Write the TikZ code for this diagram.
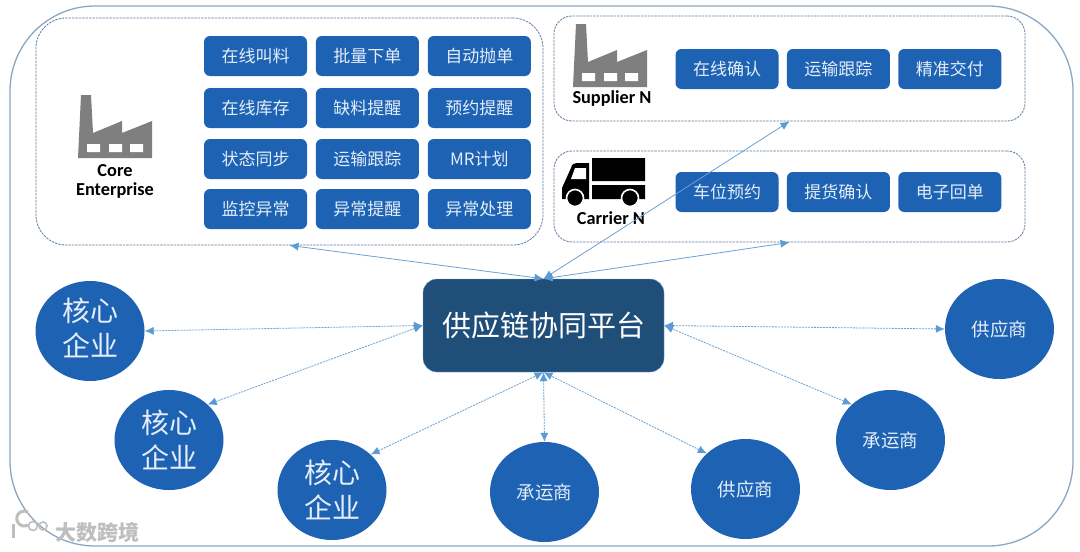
\documentclass[tikz,border=0pt]{standalone}
\usepackage{fontspec}
\setmainfont{Noto Sans CJK SC}
\newfontfamily\latinfont{Carlito}
\usepackage{tikz}
\usetikzlibrary{positioning,arrows.meta,shapes.geometric}
\definecolor{ink}{HTML}{1F4E79}
\definecolor{btnblue}{HTML}{1E62B4}
\definecolor{frame}{HTML}{8BA6C1}
\definecolor{dashline}{HTML}{5F7F9F}
\definecolor{flowblue}{HTML}{6BA0D2}
\definecolor{tipblue}{HTML}{5B9BD5}
\definecolor{factorygrey}{HTML}{7F7F7F}
\definecolor{paletext}{HTML}{E4EEF8}
\definecolor{markgrey}{HTML}{BEBEBE}
\tikzset{
  group/.style={draw=dashline,line width=0.8pt,dash pattern=on 2.4pt off 1pt,minimum width=#1},
  btn/.style={draw=none,fill=btnblue,rounded corners=6pt,minimum width=103pt,minimum height=40pt,inner sep=0pt,text=paletext,font=\fontsize{17}{17}\selectfont},
  site/.style={ellipse,draw=none,fill=btnblue,minimum width=109pt,minimum height=100pt,inner sep=0pt,text=paletext,align=center},
  bigsite/.style={site,font=\fontsize{28}{35}\selectfont},
  smallsite/.style={site,font=\fontsize{18.5}{20}\selectfont},
  lbl/.style={font=\latinfont\fontsize{18.3}{19.5}\selectfont\bfseries,align=center,text=black},
  flow/.style={{Latex[length=9pt,width=8pt,color=tipblue]}-{Latex[length=9pt,width=8pt,color=tipblue]},draw=flowblue,line width=0.8pt},
  dashflow/.style={flow,dash pattern=on 2pt off 1pt},
  factory/.pic={
    \fill[factorygrey] (3,0) -- (13,0) -- (15,38) -- (44,26) -- (44,38) -- (74,26) -- (74,63) -- (0,63) -- cycle;
    \fill[white] (9,49) rectangle (22,57) (31,49) rectangle (44,57) (52,49) rectangle (65,57);
  },
  truck/.pic={
    \fill[black] (30,0) rectangle (83,23) (30,27) rectangle (83,41);
    \fill[black] (0,39) -- (0,30) -- (9,10) .. controls (10,6) and (12,5) .. (15,5) -- (27,5) -- (27,41) -- (0,41) -- cycle;
    \fill[white] (13,10) -- (24,10) -- (24,21) -- (9,21) -- cycle;
    \fill[black,draw=white,line width=1.6pt] (13,40) circle (8.5) (68,40) circle (8.5);
  }}
\begin{document}
\begin{tikzpicture}[x=1pt,y=-1pt]
  \useasboundingbox (0,0) rectangle (1080,552);
  \fill[white] (0,0) rectangle (1080,552);
  \node[draw=frame,line width=1.3pt,rounded corners=85pt,minimum width=1063pt,minimum height=540pt,inner sep=0pt] (outer) at (541.5,276) {};
  % three groups on top
  \node[group=507pt,minimum height=227pt,rounded corners=30pt,inner sep=0pt] (core) at (289.5,131.5) {};
  \node[group=471pt,minimum height=105pt,rounded corners=18pt,inner sep=0pt] (supplier) at (789.5,68.5) {};
  \node[group=471pt,minimum height=91pt,rounded corners=18pt,inner sep=0pt] (carrier) at (789.5,196.5) {};
  \pic at (78,95) {factory};
  \pic at (573,24) {factory};
  \pic at (562,158) {truck};
  \node[lbl] (corelbl) at (115,181.5) {Core\\Enterprise};
  \node[lbl] (supplierlbl) at (612,98.5) {Supplier N};
  \node[lbl] (carrierlbl) at (611,218) {Carrier N};
  % buttons of the core enterprise
  \node[btn] (b11) at (255.5,56) {在线叫料};
  \node[btn,right=8.5pt of b11] (b12) {批量下单};
  \node[btn,right=8.5pt of b12] (b13) {自动抛单};
  \node[btn] (b21) at (255.5,108) {在线库存};
  \node[btn,right=8.5pt of b21] (b22) {缺料提醒};
  \node[btn,right=8.5pt of b22] (b23) {预约提醒};
  \node[btn] (b31) at (255.5,159) {状态同步};
  \node[btn,right=8.5pt of b31] (b32) {运输跟踪};
  \node[btn,right=8.5pt of b32] (b33) {MR计划};
  \node[btn] (b41) at (255.5,209) {监控异常};
  \node[btn,right=8.5pt of b41] (b42) {异常提醒};
  \node[btn,right=8.5pt of b42] (b43) {异常处理};
  % buttons of supplier and carrier
  \node[btn] (s1) at (727,69) {在线确认};
  \node[btn,right=8pt of s1] (s2) {运输跟踪};
  \node[btn,right=8pt of s2] (s3) {精准交付};
  \node[btn] (c1) at (727,192) {车位预约};
  \node[btn,right=8pt of c1] (c2) {提货确认};
  \node[btn,right=8pt of c2] (c3) {电子回单};
  % platform and sites
  \node[draw=flowblue,fill=ink,rounded corners=14pt,minimum width=241pt,minimum height=93pt,inner sep=0pt,text=white,font=\fontsize{29}{30}\selectfont] (platform) at (543.5,325.5) {供应链协同平台};
  \node[bigsite,text depth=7pt] (core1) at (90,331) {核心\\企业};
  \node[bigsite] (core2) at (169,440) {核心\\企业};
  \node[bigsite] (core3) at (332,490) {核心\\企业};
  \node[smallsite] (carrier1) at (544.5,492) {承运商};
  \node[smallsite] (supplier1) at (745.5,489) {供应商};
  \node[smallsite] (carrier2) at (890.5,440) {承运商};
  \node[smallsite] (supplier2) at (999.5,329) {供应商};
  \draw[flow] (core.south) -- (platform.north);
  \draw[flow] (supplier.south) -- (platform.north);
  \draw[flow] (carrier.south) -- (platform.north);
  \draw[dashflow] (core1.east) -- (platform.west);
  \draw[dashflow] (core2.north east) -- (platform.west);
  \draw[dashflow] (core3.north east) -- (platform.south);
  \draw[dashflow] (carrier1.north) -- (platform.south);
  \draw[dashflow] (supplier1.north west) -- (platform.south);
  \draw[dashflow] (carrier2.north west) -- (platform.east);
  \draw[dashflow] (supplier2.west) -- (platform.east);
  % mark in the corner
  \node[text=markgrey,font=\fontsize{21}{21}\selectfont\bfseries,inner sep=0pt] (mark) at (98,532) {大数跨境};
  \draw[markgrey,line width=3pt] (13,524) -- (13,538);
  \draw[markgrey,line width=3pt] (28,525) arc (60:300:7.5);
  \draw[markgrey,line width=1.6pt] (33,526) circle (4.5) (43,526) circle (4);
\end{tikzpicture}
\end{document}
